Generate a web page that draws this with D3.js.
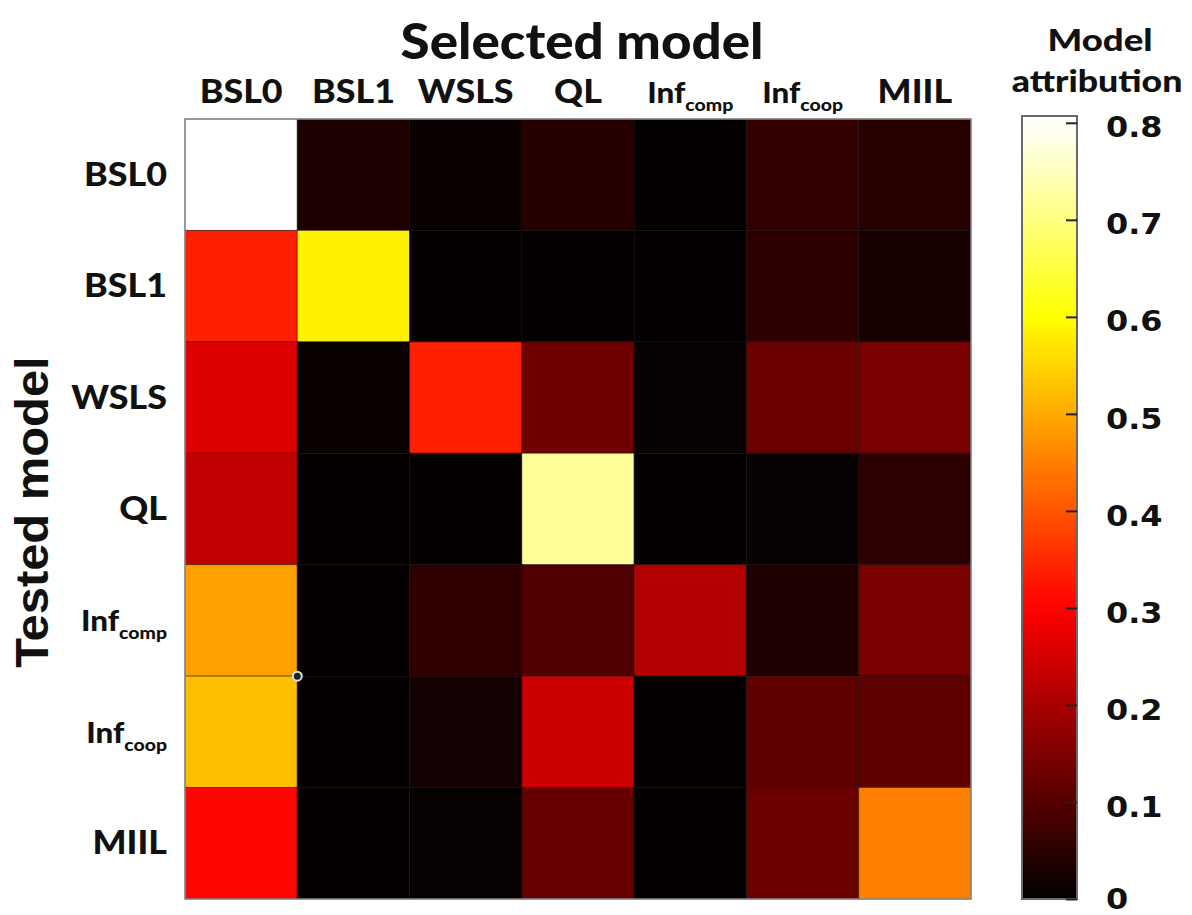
<!DOCTYPE html>
<html>
<head>
<meta charset="utf-8">
<script src="https://cdn.jsdelivr.net/npm/d3@7"></script>
<style>
  html, body { margin: 0; padding: 0; background: #fff; }
  svg { display: block; }
</style>
</head>
<body>
<svg id="chart" width="1192" height="915"></svg>
<script>
// ---- data ----
const selectedModels = ["BSL0", "BSL1", "WSLS", "QL", "Inf|comp", "Inf|coop", "MIIL"]; // columns
const testedModels   = ["BSL0", "BSL1", "WSLS", "QL", "Inf|comp", "Inf|coop", "MIIL"]; // rows
const rowBSL0    = [0.81, 0.033, 0.010, 0.045, 0.005, 0.060, 0.047];
const rowBSL1    = [0.338, 0.585, 0.005, 0.005, 0.005, 0.055, 0.030];
const rowWSLS    = [0.262, 0.010, 0.338, 0.132, 0.008, 0.125, 0.141];
const rowQL      = [0.226, 0.006, 0.006, 0.720, 0.006, 0.008, 0.052];
const rowInfcomp = [0.490, 0.005, 0.056, 0.094, 0.212, 0.035, 0.143];
const rowInfcoop = [0.525, 0.005, 0.024, 0.240, 0.005, 0.113, 0.110];
const rowMIIL    = [0.305, 0.006, 0.007, 0.120, 0.005, 0.125, 0.450];
const matrix = [rowBSL0, rowBSL1, rowWSLS, rowQL, rowInfcomp, rowInfcoop, rowMIIL];
const colorTicks = [0, 0.1, 0.2, 0.3, 0.4, 0.5, 0.6, 0.7, 0.8];
const colorMax = 0.807;

// ---- layout ----
const svg = d3.select("#chart");
const hm = { left: 185, top: 119, right: 971, bottom: 899 };
const cb = { left: 1022, right: 1077, top: 116, bottom: 899 };

const x = d3.scaleBand().domain(selectedModels).range([hm.left, hm.right]).padding(0);
const y = d3.scaleBand().domain(testedModels).range([hm.top, hm.bottom]).padding(0);

// MATLAB "hot" colormap
function hot(t) {
  t = Math.max(0, Math.min(1, t));
  const r = Math.min(1, t / 0.375);
  const g = Math.max(0, Math.min(1, (t - 0.375) / 0.375));
  const b = Math.max(0, Math.min(1, (t - 0.75) / 0.25));
  return d3.rgb(r * 255, g * 255, b * 255).toString();
}
const color = d3.scaleSequential(hot).domain([0, 0.8]);

// ---- cells ----
const cells = [];
matrix.forEach((row, i) => row.forEach((v, j) => cells.push({ r: testedModels[i], c: selectedModels[j], v })));

svg.append("g").selectAll("rect").data(cells).join("rect")
  .attr("x", d => x(d.c))
  .attr("y", d => y(d.r))
  .attr("width", x.bandwidth())
  .attr("height", y.bandwidth())
  .attr("fill", d => color(d.v))
  .attr("stroke", "rgba(0,0,0,0.45)")
  .attr("stroke-width", 1);

svg.append("rect")
  .attr("x", hm.left).attr("y", hm.top)
  .attr("width", hm.right - hm.left).attr("height", hm.bottom - hm.top)
  .attr("fill", "none").attr("stroke", "#8a8a8a").attr("stroke-width", 1.5);

// small marker artifact
svg.append("circle")
  .attr("cx", x(selectedModels[1])).attr("cy", y(testedModels[5]))
  .attr("r", 4.5).attr("fill", "#1d2430").attr("stroke", "#e0e0d8").attr("stroke-width", 2);

// ---- labels ----
const labelFont = "Lato, 'Open Sans', sans-serif";
const labelWeight = 900;
function addLabel(g, text, size, anchor) {
  const parts = text.split("|");
  const t = g.append("text")
    .attr("font-family", labelFont).attr("font-weight", labelWeight)
    .attr("font-size", size).attr("text-anchor", anchor).attr("fill", "#111");
  t.append("tspan").text(parts[0]);
  if (parts[1]) {
    t.append("tspan").attr("font-size", size * 0.62).attr("dy", size * 0.28).text(parts[1]);
  }
  return t;
}

// column labels (top)
selectedModels.forEach(m => {
  const g = svg.append("g").attr("transform", `translate(${x(m) + x.bandwidth() / 2},103) scale(1.12,1)`);
  addLabel(g, m, m.includes("|") ? 28 : 32, "middle");
});
// row labels (left)
testedModels.forEach(m => {
  const g = svg.append("g").attr("transform", `translate(167,${y(m) + y.bandwidth() / 2 + 11}) scale(1.12,1)`);
  addLabel(g, m, m.includes("|") ? 28 : 32, "end");
});

// titles
svg.append("text")
  .attr("transform", "translate(582,59) scale(1.08,1)")
  .attr("text-anchor", "middle")
  .attr("font-family", labelFont).attr("font-weight", labelWeight).attr("font-size", 49)
  .attr("fill", "#111").text("Selected model");

svg.append("text")
  .attr("transform", "translate(48,512) rotate(-90) scale(1.04,1)")
  .attr("text-anchor", "middle")
  .attr("font-family", "'Liberation Sans', Arial, sans-serif").attr("font-weight", 700).attr("font-size", 47)
  .attr("fill", "#111").text("Tested model");

svg.append("text")
  .attr("transform", "translate(1100,51) scale(1.18,1)")
  .attr("text-anchor", "middle")
  .attr("font-family", labelFont).attr("font-weight", labelWeight).attr("font-size", 31)
  .attr("fill", "#111").text("Model");
svg.append("text")
  .attr("transform", "translate(1097,92) scale(1.15,1)")
  .attr("text-anchor", "middle")
  .attr("font-family", labelFont).attr("font-weight", labelWeight).attr("font-size", 31)
  .attr("fill", "#111").text("attribution");

// ---- colorbar ----
const cy = d3.scaleLinear().domain([0, colorMax]).range([cb.bottom, cb.top]);
const defs = svg.append("defs");
const grad = defs.append("linearGradient").attr("id", "hotgrad")
  .attr("x1", 0).attr("y1", 1).attr("x2", 0).attr("y2", 0);
d3.range(0, 1.0001, 0.02).forEach(t => {
  grad.append("stop").attr("offset", t).attr("stop-color", color(t * colorMax));
});
svg.append("rect")
  .attr("x", cb.left).attr("y", cb.top)
  .attr("width", cb.right - cb.left).attr("height", cb.bottom - cb.top)
  .attr("fill", "url(#hotgrad)")
  .attr("stroke", "#6a6a6a").attr("stroke-width", 2);

const cAxis = d3.axisRight(cy).tickValues(colorTicks).tickSize(0).tickPadding(0)
  .tickFormat(d => d === 0 ? "0" : d3.format(".1f")(d));
const ag = svg.append("g").attr("transform", `translate(${cb.right},0)`).call(cAxis);
ag.select(".domain").remove();
ag.selectAll(".tick text").remove();
ag.selectAll(".tick").append("line")
  .attr("x1", -11).attr("x2", 0).attr("stroke", "#222").attr("stroke-width", 2);
ag.selectAll(".tick").append("text")
  .attr("transform", "translate(29,4) scale(1.1,1)")
  .attr("dy", "0.35em")
  .attr("text-anchor", "start")
  .attr("font-family", "'DejaVu Sans', sans-serif").attr("font-weight", 700).attr("font-size", 29)
  .attr("fill", "#111")
  .text(d => d === 0 ? "0" : d3.format(".1f")(d));
// keep the lowest label inside the picture
ag.selectAll(".tick").filter(d => d === 0).select("text")
  .attr("transform", "translate(29,-1) scale(1.1,1)");
</script>
</body>
</html>
